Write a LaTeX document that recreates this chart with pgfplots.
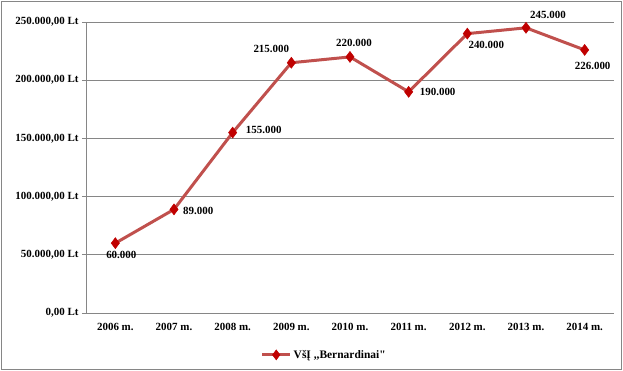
\documentclass[border=0pt]{standalone}
\usepackage{fontspec}
\setmainfont{Liberation Serif}
\newfontfamily\legendfont{Liberation Serif}[Ligatures=TeXOff]
\usepackage{pgfplots}
\pgfplotsset{compat=1.18}
\definecolor{linered}{RGB}{192,80,77}
\definecolor{markred}{RGB}{192,0,0}
\definecolor{gridgray}{RGB}{134,134,134}
\begin{document}
\begin{tikzpicture}
\path[use as bounding box] (0,0) rectangle (623bp,371bp);
\draw[gridgray, line width=0.8bp] (1.5bp,1.5bp) rectangle (621.5bp,369.5bp);
\begin{axis}[
  at={(86bp,58bp)}, anchor=south west,
  scale only axis, width=528bp, height=291bp,
  xmin=-0.5, xmax=8.5, ymin=0, ymax=250000,
  axis x line*=bottom, axis y line*=left,
  axis line style={gridgray, line width=0.8bp},
  xtick={0,...,8},
  xticklabels={2006 m.,2007 m.,2008 m.,2009 m.,2010 m.,2011 m.,2012 m.,2013 m.,2014 m.},
  x tick label style={font=\fontsize{11}{12}\selectfont\bfseries, yshift=-3bp},
  major x tick style={draw=none},
  extra x ticks={-0.5,0.5,1.5,2.5,3.5,4.5,5.5,6.5,7.5,8.5},
  extra x tick labels={},
  extra x tick style={grid=none, tick style={draw=gridgray, line width=0.8bp}, major tick length=4bp, tick align=outside},
  ytick={0,50000,100000,150000,200000,250000},
  yticklabels={{0,00 Lt},{50.000,00 Lt},{100.000,00 Lt},{150.000,00 Lt},{200.000,00 Lt},{250.000,00 Lt}},
  y tick label style={font=\fontsize{11}{12}\selectfont\bfseries},
  y tick style={draw=gridgray, line width=0.8bp},
  major tick length=4bp, tick align=outside,
  scaled y ticks=false,
  ymajorgrids, grid style={gridgray, line width=0.8bp},
  clip=false,
  legend style={at={(0.451,-0.144)}, anchor=center, draw=none, fill=none,
    font=\legendfont\fontsize{11.5}{12}\selectfont\bfseries},
  legend image code/.code={
    \draw[linered, line width=3bp] (-0.2bp,0cm) -- (28bp,0cm);
    \draw[markred, fill=markred] plot[mark=diamond*, mark size=5bp] coordinates {(14bp,0cm)};
  },
  lbl/.style 2 args={draw=none, mark=none, forget plot, point meta=explicit symbolic,
    nodes near coords,
    every node near coord/.append style={anchor=#1, font=\fontsize{11}{12}\selectfont\bfseries, text=black, inner sep=0pt, #2}},
]
\addplot[linered, line width=3bp,
  mark=diamond*, mark size=5.5bp, mark options={draw=markred, fill=markred, line width=0.5bp}]
  coordinates {(0,60000) (1,89000) (2,155000) (3,215000) (4,220000) (5,190000) (6,240000) (7,245000) (8,226000)};
\addlegendentry{VšĮ ,,Bernardinai"}
\addplot[lbl={north}{yshift=-8bp, xshift=6bp}] coordinates {(0,60000)[60.000]};
\addplot[lbl={north}{yshift=-12bp, xshift=8bp}] coordinates {(8,226000)[226.000]};
\addplot[lbl={west}{xshift=9bp, yshift=-2bp}] coordinates {(1,89000)[89.000]};
\addplot[lbl={west}{xshift=13bp, yshift=3bp}] coordinates {(2,155000)[155.000]};
\addplot[lbl={west}{xshift=11bp, yshift=0bp}] coordinates {(5,190000)[190.000]};
\addplot[lbl={south east}{yshift=10bp, xshift=-2bp}] coordinates {(3,215000)[215.000]};
\addplot[lbl={south}{yshift=10bp, xshift=4bp}] coordinates {(4,220000)[220.000]};
\addplot[lbl={north west}{yshift=-7bp, xshift=1bp}] coordinates {(6,240000)[240.000]};
\addplot[lbl={south west}{yshift=9bp, xshift=4bp}] coordinates {(7,245000)[245.000]};
\end{axis}
\end{tikzpicture}
\end{document}
